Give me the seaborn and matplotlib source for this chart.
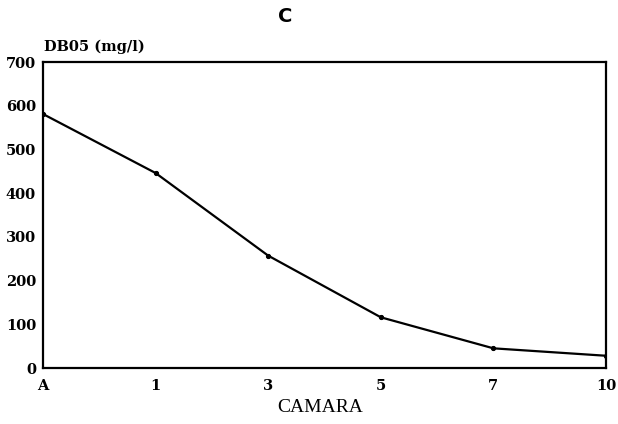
import matplotlib
matplotlib.use("Agg")
import matplotlib.pyplot as plt
import seaborn as sns
import pandas as pd

# Data
camaras = ["A", "1", "3", "5", "7", "10"]
dbo5 = [581, 446, 257, 116, 45, 28]
y_ticks = [0, 100, 200, 300, 400, 500, 600, 700]

sns.set_theme(style="white")
plt.rcParams['font.family'] = ['DejaVu Serif']
plt.rcParams['text.color'] = 'black'

df = pd.DataFrame({"pos": list(range(len(camaras))), "val": dbo5})

fig = plt.figure(figsize=(6.18, 4.24), dpi=100)
ax = fig.add_axes([43/618, 1-368/424, (606-43)/618, (368-62)/424])

sns.lineplot(data=df, x="pos", y="val", ax=ax, color="black", linewidth=1.6,
             marker="o", markersize=3, markeredgecolor="black", sort=False)

ax.set_xlim(0, len(camaras) - 1)
ax.set_ylim(0, 700)
ax.set_xticks(range(len(camaras)))
ax.set_xticklabels(camaras, fontsize=10.5, fontweight="bold")
ax.set_yticks(y_ticks)
ax.set_yticklabels([str(v) for v in y_ticks], fontsize=10.5, fontweight="bold")
ax.tick_params(axis="x", direction="in", length=6, width=1.2, pad=8, colors="black")
ax.tick_params(axis="y", direction="in", length=5, width=1.2, pad=5, colors="black")
for s in ax.spines.values():
    s.set_visible(True)
    s.set_color("black")
    s.set_linewidth(1.6)
ax.set_xlabel("")
ax.set_ylabel("")
ax.grid(False)

fig.text(44/618, 1-47/424, "DB05 (mg/l)", fontsize=10.5, fontweight="bold",
         ha="left", va="center", color="black")
fig.text(285/618, 1-17/424, "C", fontsize=14, fontweight="bold",
         family="DejaVu Sans", ha="center", va="center", color="black")
fig.text(320/618, 1-408/424, "CAMARA", fontsize=14, family="Liberation Serif",
         ha="center", va="center", color="black")

fig.savefig("out.png", dpi=100, facecolor="white")
